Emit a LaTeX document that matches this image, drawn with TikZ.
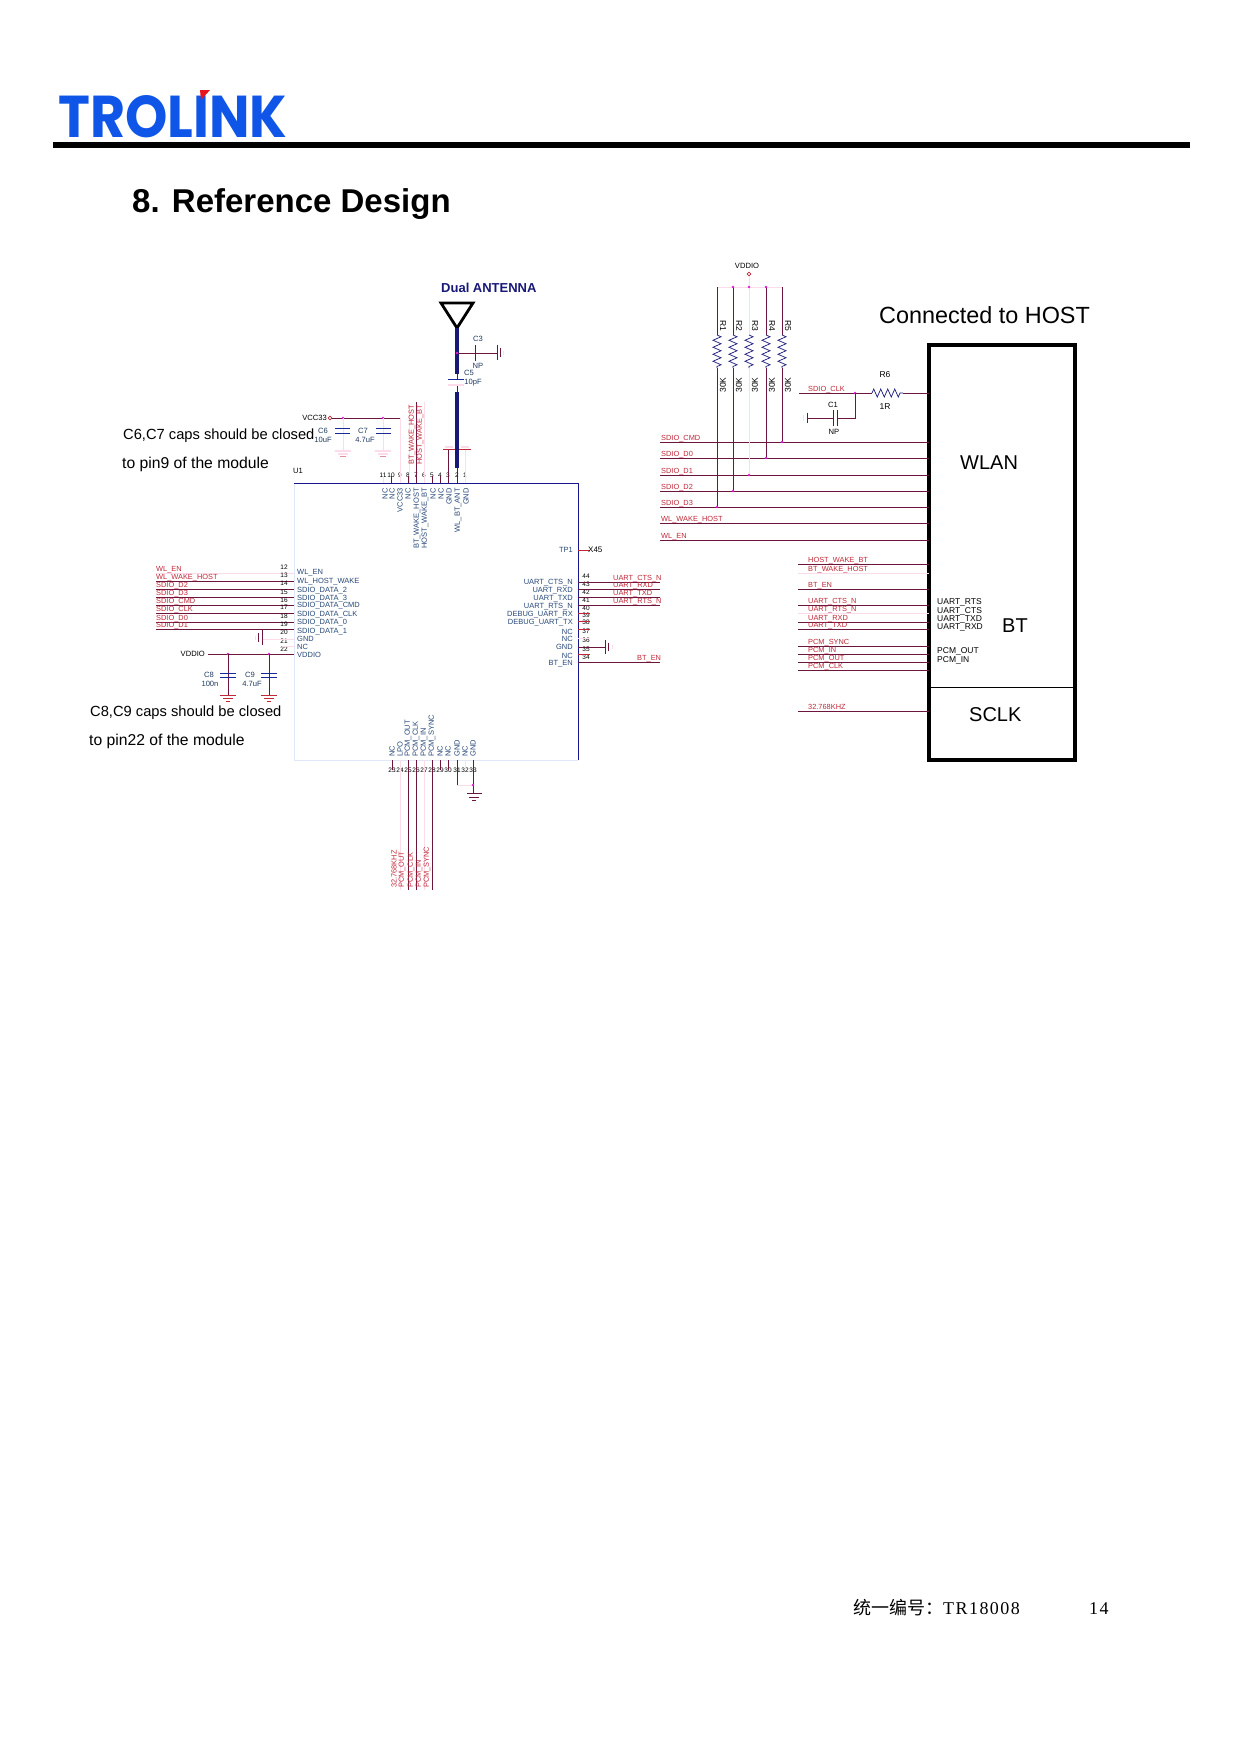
\documentclass[tikz,border=0pt]{standalone}
\usepackage{fontspec}
\setmainfont{Liberation Sans}
\newfontfamily\cjkfont{Noto Sans CJK SC}
\newfontfamily\footfont[LetterSpace=8]{Liberation Serif}
\newfontfamily\logofont{Poppins}
\usetikzlibrary{decorations.pathmorphing}
\definecolor{wire1}{RGB}{108,22,62}
\definecolor{pale1}{RGB}{252,220,234}
\definecolor{net1}{RGB}{192,40,56}
\definecolor{pin1}{RGB}{40,72,120}
\definecolor{chip1}{RGB}{24,24,140}
\definecolor{chip2}{RGB}{224,232,248}
\definecolor{ant1}{RGB}{24,24,120}
\definecolor{cap1}{RGB}{24,40,150}
\definecolor{dot1}{RGB}{226,30,210}
\definecolor{logo1}{RGB}{15,85,232}
\definecolor{logo2}{RGB}{232,20,30}

\begin{document}
\begin{tikzpicture}[x=1pt,y=-1pt,
 wire/.style={color=wire1,line width=0.9pt},
 palewire/.style={color=pale1,line width=0.9pt},
 capline/.style={color=cap1,line width=0.9pt},
 palecap/.style={color=pale1,line width=1.4pt},
 res/.style={color=ant1,line width=0.7pt,decorate,decoration={zigzag,amplitude=4pt,segment length=7pt}},
 txt/.style={inner sep=0pt,anchor=base west},
 note/.style={txt,font=\fontsize{14.7}{16}\selectfont},
 notewide/.style={txt,font=\fontsize{15.7}{17}\selectfont},
 big/.style={txt,font=\fontsize{20}{22}\selectfont},
 netlab/.style={txt,color=net1,font=\fontsize{7.4}{8}\selectfont},
 pinlab/.style={inner sep=0pt,color=pin1,font=\fontsize{7.5}{8}\selectfont},
 partlab/.style={inner sep=0pt,color=pin1!80!black,font=\fontsize{7.6}{8}\selectfont},
 rlab/.style={inner sep=0pt,color=black,font=\fontsize{8.5}{9}\selectfont},
 hostlab/.style={inner sep=0pt,anchor=west,font=\fontsize{8.5}{9}\selectfont},
 pinnum/.style={inner sep=0pt,font=\fontsize{6.5}{7}\selectfont}]
\useasboundingbox (0,0) rectangle (1240,1754);
%% header
\node (logo) [txt,color=logo1] at (58,137) {\resizebox{229pt}{42pt}{\logofont\bfseries TROLINK}};
\fill[logo2] (200,90)--(210,90)--(201,100)--cycle;
\fill[black] (53,142) rectangle (1190,148);
\node (title) [txt,font=\fontsize{33}{36}\selectfont\bfseries] at (132,212) {8. Reference Design};
%% module
\node (u1) [inner sep=0pt,outer sep=0pt,minimum width=284pt,minimum height=277pt,anchor=north west] at (294,483) {};
\draw[color=chip2,line width=0.9pt] (u1.north west)--(u1.south west)--(u1.south east);
\draw[color=chip1,line width=0.9pt] (u1.south east)--(u1.north east)--(u1.north west);
\node (u1lab) [partlab,color=black] at (298,471) {U1};
%% top pins
\foreach \px/\pn/\sty in {383/11/palewire,391/10/wire,400/9/palewire,408/8/wire,416/7/wire,424/6/palewire,432/5/wire,440/4/wire,448/3/wire,457/2/wire,465/1/palewire}{
 \coordinate (tp\pn) at (\px,483);
 \coordinate (tq\pn) at (\px,476);
 \node (tn\pn) [pinnum] at (\px,475) {\pn};
 \draw[\sty] (tq\pn)--(tp\pn);
}
\foreach \px/\nm/\txt in {385/a/NC,392/b/NC,400/c/VCC33,408/d/NC,417/e/BT\_WAKE\_HOST,425/f/HOST\_WAKE\_BT,433/g/NC,441/h/NC,449/i/GND,458/j/WL\_BT\_ANT,466/k/GND}{
 \node (top\nm) [pinlab,rotate=90,anchor=east] at (\px,488) {\txt};
}
%% antenna
\coordinate (antbot) at (457,328);
\coordinate (antmid) at (457,374);
\coordinate (c5up) at (457,379);
\coordinate (c5dn) at (457,385);
\coordinate (antlow) at (457,392);
\coordinate (antpin) at (457,468);
\coordinate (c3in) at (457,353);
\coordinate (c3pl) at (475,353);
\coordinate (c3gn) at (497,353);
\node (antlab) [txt,color=ant1,font=\fontsize{13}{14}\selectfont\bfseries] at (441,292) {Dual ANTENNA};
\draw[line width=2.8pt,color=black] (antbot)--(441,303)--(473,303)--cycle;
\draw[line width=4pt,color=ant1] (antbot)--(antmid);
\draw[line width=4pt,color=ant1] (antlow)--(antpin);
\draw[wire] (antmid)--(c5up);
\draw[wire] (c5dn)--(antlow);
\draw[wire] (antpin)--(tp2);
\draw[capline] (448,379)--(464,379);
\draw[palecap] (448,385)--(464,385);
\node (c5) [partlab] at (469,373) {C5};
\node (c5v) [partlab] at (473,383) {10pF};
\draw[wire] (c3in)--(c3gn);
\fill[dot1] (c3in) circle (1.3);
\draw[capline] (475,345)--(475,361);
\node (c3) [partlab] at (478,339) {C3};
\node (c3v) [partlab] at (478,366) {NP};
\draw[wire] (497,345)--(497,360);
\draw[wire] (500,348)--(500,357);
\draw[palewire] (503,351)--(503,355);
%% vcc33 caps
\node (vcc) [partlab,anchor=east,color=black] at (327,418) {VCC33};
\draw[color=net1,line width=0.7pt] (330,418) circle (1.8);
\coordinate (vccend) at (400,418);
\draw[wire] (332,418)--(vccend);
\draw[palewire] (vccend)--(tp9);
\fill[dot1] (343,418) circle (1.3);
\fill[dot1] (383,418) circle (1.3);
\draw[palewire] (343,418)--(343,450);
\draw[palewire] (383,418)--(383,450);
\draw[capline] (335,428)--(350,428);
\draw[capline] (335,433)--(350,433);
\draw[capline] (376,428)--(391,428);
\draw[capline] (376,433)--(391,433);
\node (c6) [partlab] at (323,431) {C6};
\node (c6v) [partlab] at (323,440) {10uF};
\node (c7) [partlab] at (363,431) {C7};
\node (c7v) [partlab] at (365,440) {4.7uF};
\foreach \gx in {343,383}{
 \draw[palecap] (\gx-8,451)--(\gx+8,451);
 \draw[palecap] (\gx-5,454)--(\gx+5,454);
 \draw[color=net1!50,line width=0.8pt] (\gx-3,456)--(\gx+3,456);
}
\node (note1) [note] at (123,439) {C6,C7 caps should be closed};
\node (note2) [notewide] at (122,468) {to pin9 of the module};
%% net labels over the top pins
\draw[wire] (416,402)--(tp7);
\draw[palewire] (424,402)--(tp6);
\draw[palewire] (409,405)--(409,483);
\node (topnet1) [netlab,rotate=90,anchor=west] at (412,465) {BT\_WAKE\_HOST};
\node (topnet2) [netlab,rotate=90,anchor=west] at (420,465) {HOST\_WAKE\_BT};
%% top grounds
\draw[wire] (tq3)--(448,450);
\draw[color=net1,line width=0.9pt] (443,449)--(455,449);
\draw[palecap] (445,447)--(453,447);
\draw[palewire] (tq1)--(465,450);
\draw[color=net1,line width=0.9pt] (459,449)--(471,449);
\draw[palecap] (461,447)--(469,447);
%% left pins
\foreach \nm/\yy/\sty/\txt in {wlen/573/palewire/WL\_EN,wlwake/581/wire/WL\_WAKE\_HOST,sd2/589/wire/SDIO\_D2,sd3/597/wire/SDIO\_D3,sdcmd/605/wire/SDIO\_CMD,sdclk/613/wire/SDIO\_CLK,sd0/622/wire/SDIO\_D0,sd1/629/wire/SDIO\_D1}{
 \coordinate (\nm) at (156,\yy);
 \draw[\sty] (\nm)--(\nm -| u1.west);
 \node (\nm lab) [netlab] at (156,\yy-1.5) {\txt};
}
\foreach \yy/\pn in {567/12,575/13,583/14,592/15,600/16,607/17,616/18,624/19,632/20,641/21,649/22}{
 \node (ln\pn) [pinnum] at (284,\yy) {\pn};
}
\foreach \yy/\nm/\txt in {573/a/WL\_EN,582/b/WL\_HOST\_WAKE,591/c/SDIO\_DATA\_2,599/d/SDIO\_DATA\_3,606/e/SDIO\_DATA\_CMD,615/f/SDIO\_DATA\_CLK,623/g/SDIO\_DATA\_0,632/h/SDIO\_DATA\_1,639/i/GND,647/j/NC,655/k/VDDIO}{
 \node (left\nm) [pinlab,anchor=west] at (297,\yy) {\txt};
}
\coordinate (lgnd) at (262,639);
\draw[palewire] (lgnd)--(lgnd -| u1.west);
\draw[wire] (262,630)--(262,645);
\draw[wire] (258,633)--(258,642);
\draw[palewire] (255,636)--(255,640);
\draw[palewire] (282,646)--(295,646);
%% vddio caps
\coordinate (vddio) at (208,654);
\node (vddiolab) [partlab,anchor=east,color=black] at (205,654) {VDDIO};
\draw[wire] (vddio)--(vddio -| u1.west);
\fill[dot1] (228,654) circle (1.3);
\fill[dot1] (269,654) circle (1.3);
\foreach \gx in {228,269}{
 \draw[wire] (\gx,654)--(\gx,695);
 \draw[capline] (\gx-8,673)--(\gx+8,673);
 \draw[capline] (\gx-8,677)--(\gx+8,677);
 \draw[color=net1,line width=0.8pt] (\gx-8,695)--(\gx+8,695);
 \draw[color=net1,line width=0.8pt] (\gx-5,698)--(\gx+5,698);
 \draw[color=net1,line width=0.8pt] (\gx-2,701)--(\gx+2,701);
}
\node (c8) [partlab] at (209,675) {C8};
\node (c8v) [partlab] at (210,684) {100n};
\node (c9) [partlab] at (250,675) {C9};
\node (c9v) [partlab] at (252,684) {4.7uF};
\node (note3) [note] at (90,716) {C8,C9 caps should be closed};
\node (note4) [notewide] at (89,745) {to pin22 of the module};
%% bottom pins
\foreach \px/\pn/\sty in {392/23/wire,400/24/palewire,408/25/wire,416/26/wire,424/27/palewire,432/28/wire,440/29/wire,448/30/wire,457/31/wire,465/32/palewire,473/33/wire}{
 \coordinate (bp\pn) at (\px,760);
 \coordinate (bq\pn) at (\px,770);
 \node (bn\pn) [pinnum] at (\px,770) {\pn};
 \draw[\sty] (bp\pn)--(bq\pn);
}
\foreach \px/\nm/\txt in {392/a/NC,400/b/LPO,408/c/PCM\_OUT,416/d/PCM\_CLK,424/e/PCM\_IN,432/f/PCM\_SYNC,440/g/NC,448/h/NC,457/i/GND,465/j/NC,473/k/GND}{
 \node (bot\nm) [pinlab,rotate=90,anchor=west] at (\px,757) {\txt};
}
\foreach \pn/\sty in {24/palewire,25/wire,26/wire,27/palewire,28/wire}{
 \coordinate (be\pn) at (bq\pn |- 0,890);
 \draw[\sty] (bq\pn)--(be\pn);
}
\foreach \px/\nm/\txt in {394/a/32.768KHZ,402/b/PCM\_OUT,411/c/PCM\_CLK,419/d/PCM\_IN,427/e/PCM\_SYNC}{
 \node (botnet\nm) [netlab,rotate=90,anchor=west] at (\px,888) {\txt};
}
\coordinate (bgnd) at (473,793);
\draw[wire] (bq31)--(457,785);
\draw[palewire] (457,785)--(473,785);
\draw[wire] (bq33)--(bgnd);
\fill[dot1] (473,785) circle (1.3);
\draw[wire] (467,793)--(482,793);
\draw[wire] (469,797)--(479,797);
\draw[wire] (472,800)--(476,800);
%% right pins
\foreach \yy/\pn in {576/44,584/43,592/42,600/41,608/40,615/39,622/38,631/37,640/36,649/35,657/34}{
 \node (rn\pn) [pinnum] at (586,\yy) {\pn};
}
\foreach \yy/\nm/\txt in {583/a/UART\_CTS\_N,591/b/UART\_RXD,599/c/UART\_TXD,607/d/UART\_RTS\_N,615/e/DEBUG\_UART\_RX,623/f/DEBUG\_UART\_TX,632/g/NC,639/h/NC,647/i/GND,656/j/NC,664/k/BT\_EN}{
 \node (right\nm) [pinlab,anchor=east] at (573,\yy) {\txt};
}
\foreach \nm/\yy/\txt in {rcts/582/UART\_CTS\_N,rrxd/589/UART\_RXD,rtxd/597/UART\_TXD,rrts/605/UART\_RTS\_N}{
 \coordinate (\nm) at (660,\yy);
 \draw[wire] (\nm -| u1.east)--(\nm);
 \node (\nm lab) [netlab] at (613,\yy-1.5) {\txt};
}
\foreach \yy in {613,621,629,654}{
 \draw[color=net1,line width=0.8pt] (578,\yy)--(590,\yy);
}
\draw[palewire] (578,638)--(590,638);
\coordinate (rbten) at (660,662);
\draw[wire] (rbten -| u1.east)--(rbten);
\node (rbtenlab) [netlab] at (637,660.5) {BT\_EN};
\coordinate (rgnd) at (605,647);
\draw[wire] (rgnd -| u1.east)--(rgnd);
\draw[wire] (605,640)--(605,654);
\draw[wire] (608,643)--(608,651);
\draw[palewire] (612,645)--(612,649);
\coordinate (tp1r) at (590,550);
\draw[color=net1,line width=0.8pt] (tp1r -| u1.east)--(tp1r);
\node (tp1lab) [pinlab,anchor=east] at (573,550) {TP1};
\node (tp1x) [pinnum,anchor=west,font=\fontsize{8}{9}\selectfont] at (588,550) {X45};
%% host box
\node (host) [draw=black,line width=4.5pt,inner sep=0pt,outer sep=0pt,minimum width=146pt,minimum height=415pt,anchor=north west] at (929,345) {};
\coordinate (sclkline) at (929,687);
\draw[color=black,line width=1pt] (sclkline)--(sclkline -| host.east);
\node (hostlab) [txt,font=\fontsize{23.4}{25}\selectfont] at (879,323) {Connected to HOST};
\node (wlan) [big] at (960,469) {WLAN};
\node (bt) [big] at (1002,632) {BT};
\node (sclk) [big] at (969,721) {SCLK};
\foreach \yy/\nm/\txt in {602/a/UART\_RTS,611/b/UART\_CTS,619/c/UART\_TXD,627/d/UART\_RXD,651/e/PCM\_OUT,660/f/PCM\_IN}{
 \node (hostpin\nm) [hostlab] at (937,\yy) {\txt};
}
%% wlan nets
\foreach \nm/\yy/\txt in {hcmd/442/SDIO\_CMD,hd0/458/SDIO\_D0,hd1/475/SDIO\_D1,hd2/491/SDIO\_D2,hd3/507/SDIO\_D3,hwake/523/WL\_WAKE\_HOST,hen/540/WL\_EN}{
 \coordinate (\nm) at (660,\yy);
 \draw[wire] (\nm)--(\nm -| host.west);
 \node (\nm lab) [netlab] at (661,\yy-1.5) {\txt};
}
%% pull ups
\node (vddtop) [partlab,color=black] at (747,266) {VDDIO};
\draw[color=net1,line width=0.7pt] (749,274) circle (1.8);
\draw[palewire] (749,276)--(749,287);
\draw[palewire] (717,287)--(782,287);
\foreach \rx/\rn/\net/\sty in {717/1/hd3/wire,733/2/hd2/wire,749/3/hd1/palewire,766/4/hd0/wire,782/5/hcmd/wire}{
 \coordinate (rt\rn) at (\rx,287);
 \coordinate (ra\rn) at (\rx,335);
 \coordinate (rb\rn) at (\rx,368);
 \draw[\sty] (rt\rn)--(ra\rn);
 \draw[res] (ra\rn)--(rb\rn);
 \draw[\sty] (rb\rn)--(rb\rn |- \net);
 \fill[dot1] (rb\rn |- \net) circle (1.3);
 \node (rlab\rn) [rlab,rotate=-90] at (\rx+6,326) {R\rn};
 \node (rval\rn) [rlab,rotate=90] at (\rx+6,385) {30K};
}
\fill[dot1] (733,287) circle (1.3);
\fill[dot1] (749,287) circle (1.3);
\fill[dot1] (766,287) circle (1.3);
%% sdio clk
\coordinate (hclk) at (799,393);
\coordinate (r6a) at (872,393);
\coordinate (r6b) at (903,393);
\draw[wire] (hclk)--(r6a);
\draw[res] (r6a)--(r6b);
\draw[wire] (r6b)--(r6b -| host.west);
\node (hclklab) [netlab] at (808,391.5) {SDIO\_CLK};
\fill[dot1] (855,393) circle (1.3);
\draw[wire] (855,393)--(855,418)--(837,418);
\draw[wire] (833,418)--(807,418);
\draw[capline] (833,410)--(833,426);
\draw[capline] (837,410)--(837,426);
\draw[wire] (807,413)--(807,423);
\draw[palewire] (803,415)--(803,421);
\node (c1) [partlab,color=black] at (833,405) {C1};
\node (c1v) [partlab,color=black] at (834,432) {NP};
\node (r6) [rlab] at (885,375) {R6};
\node (r6v) [rlab] at (885,407) {1R};
%% bt nets
\foreach \nm/\yy/\sty/\txt in {bwk/564/wire/HOST\_WAKE\_BT,bhw/573/palewire/BT\_WAKE\_HOST,ben/589/wire/BT\_EN,bcts/605/wire/UART\_CTS\_N,brts/613/palewire/UART\_RTS\_N,brxd/622/wire/UART\_RXD,btxd/629/wire/UART\_TXD,bsyn/646/wire/PCM\_SYNC,bin/654/wire/PCM\_IN,bout/662/wire/PCM\_OUT,bclk/670/wire/PCM\_CLK,bkhz/711/wire/32.768KHZ}{
 \coordinate (\nm) at (798,\yy);
 \draw[\sty] (\nm)--(\nm -| host.west);
 \node (\nm lab) [netlab] at (808,\yy-1.5) {\txt};
}
%% footer
\node (foot1) [txt,font=\fontsize{18}{20}\selectfont] at (853,1614) {\cjkfont 统一编号：\footfont TR18008};
\node (foot2) [txt,font=\fontsize{18}{20}\selectfont\footfont] at (1089,1614) {14};
\end{tikzpicture}
\end{document}
